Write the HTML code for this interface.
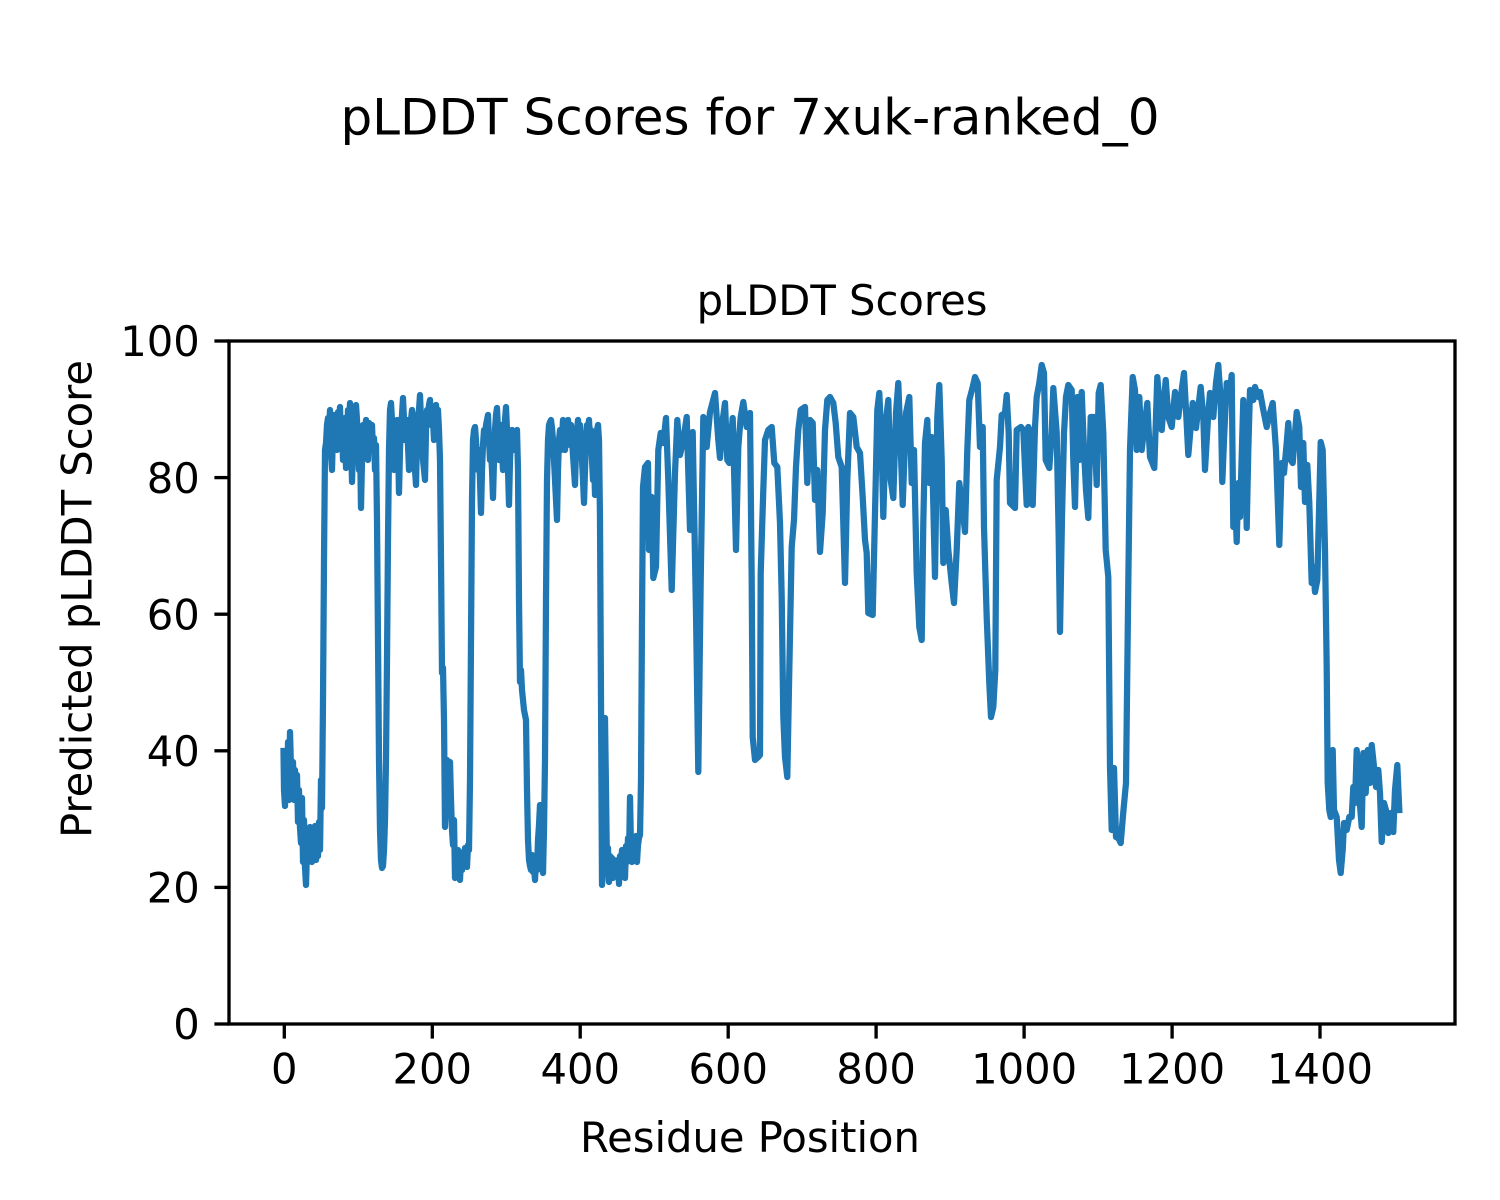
<!DOCTYPE html>
<html>
<head>
<meta charset="utf-8">
<style>
html,body{margin:0;padding:0;background:#fff;}
svg{display:block;}
text{font-family:"DejaVu Sans","Liberation Sans",sans-serif;fill:#000;}
</style>
</head>
<body>
<svg width="1500" height="1200" viewBox="0 0 1500 1200" xmlns="http://www.w3.org/2000/svg">
<rect x="0" y="0" width="1500" height="1200" fill="#fff"/>
<text x="750" y="134.5" font-size="50" text-anchor="middle">pLDDT Scores for 7xuk-ranked_0</text>
<text x="842" y="315" font-size="41.67" text-anchor="middle">pLDDT Scores</text>
<defs><clipPath id="ax"><rect x="229" y="341" width="1226" height="683"/></clipPath></defs>
<polyline clip-path="url(#ax)" fill="none" stroke="#1f77b4" stroke-width="6.25" stroke-linejoin="round" stroke-linecap="square" points="
283.5,751 284,790 285,806 286,760 287,797 288,742 289,800 290,732 291,768 292,795 293,762 294,800 295,770 296,788 297,775 298,822 299,790 300,828 301,843 302,798 303,862 304,820 305,868 306,885 307,850 308,835 309,860 310,827 311,848 312,862 313,828 314,858 315,826 316,860 317,835 318,856 319,822 320,850 321,780 322,808 323,700 324,560 325,450
326,443 327,425 328,418 329,432 330,410 331,455 332,470 333,430 334,415 335,440 336,420 337,450 338,412 339,430 340,407 341,445 342,420 343,460 344,430 345,418 346,468 347,440 348,410 349,430 350,403 351,440 352,482 353,445 354,415 355,430 356,405 357,420 358,450 359,470 360,440 361,508 362,460 363,425 364,440 365,430 366,420 367,445 368,460 369,423 370,430 371,440 372,425 373,450 374,438 375,470 376,445 377,520 378,640 379,760 380,830 381,860 382,868 383,866 384,850 385,820 386,760 387,660 388,540 389,450 390,410 391,403
392,420 393,445 394,470 395,430 396,450 397,420 398,440 399,493 400,450 401,425 402,415 403,398 404,420 405,440 406,430 407,420 408,445 409,470 410,440 411,420 412,410 413,430 414,450 415,470 416,485 417,440 418,415 419,410 420,395 421,420 422,440 423,460 424,470 425,480 426,430 427,410 428,420 429,405 430,400 431,425 432,410 433,420 434,440 435,415 436,405 437,420 438,410 439,430 440,460
441,560 442,673 443,668 444,720 445,827 446,800 447,760 448,790 449,810 450,762 451,800 452,830 453,845 454,820 455,878 456,860 457,872 458,850 459,868 460,880 461,858 462,870 463,852 464,866 465,848 466,860 467,867 468,845 469,850 470,780 471,640 472,500 473,440
474,430 475,427 476,440 477,460 478,470 479,450 480,480 481,513 482,470 483,445 484,430 485,440 486,425 487,420 488,415 489,440 490,460 491,450 492,470 493,498 494,460 495,430 496,415 497,408 498,430 499,460 500,440 501,425 502,450 503,470 504,440 505,420 506,407 507,430 508,470 509,505 510,460 511,440 512,430 513,450 514,440 515,445 516,435 517,430 518,470 519,600 520,682 521,670 522,690 523,700 524,710 525,715 526,720 527,790 528,840 529,860 530,866 531,870 532,855 533,872 534,866 535,880 536,862 537,870 538,840 539,825 540,805 541,845 542,860 543,873 544,830 545,760 546,600 547,480 548,440 549,425 550,422 551,420
552,428 553,440 554,460 555,480 556,500 557,520 558,470 559,440 560,430 561,450 562,440 563,420 564,432 565,450 566,425 567,440 568,420 569,430 570,445 571,425 572,440 573,455 574,470 575,485 576,450 577,430 578,420 579,440 580,425 581,445 582,460 583,480 584,503 585,470 586,440 587,425 588,430 589,420 590,440 591,430 592,460 593,480 594,455 595,495 596,470 597,430 598,425 599,440 600,520 601,700 602,885 603,870 604,760 605,718 606,790 607,870 608,848 609,882 610,856 611,872 612,858 613,878 614,860 615,876 616,862 617,874 618,860 619,884 620,856 621,866 622,850 623,870 624,855 625,878 626,846 627,862 628,838 629,858 630,797 631,848 632,862 633,842 634,860 635,856 636,836 637,862 638,845 639,838 640,835 641,780 642,620 643,487
645,467 648,463 649,550 651.7,497 653.3,578 656,567 658.3,450 660.7,433 663.3,443 666,418 668.3,480 671.7,590 675,473 677.3,420 680,455 683.3,440 686.7,417 690,530 692.7,432 696,613 698.3,772 700.7,580 703.3,417 706.7,447 710,412 715,393 718.3,440 720,458 722.7,420 725,403 727.3,460 729.3,463 732.7,418 734.3,480 736,550 738.3,447 740.7,417 743.3,402 746.7,427 750,413 751.7,580 752.7,737 755,760 758.3,757 760,755 760.7,573 763.3,490 765,440 768.3,430 771.7,427 774.3,463 777.3,467 780,523 781.7,597 783.3,717 785,757 787.3,777 789.3,670 791.7,547 794,520 796,467 798.3,430 800.7,410 805,407 807.3,483 810,420 812.7,423 815,500 817.3,470 820,552 822.7,513 825,430 827.3,400 830,397 833.3,403 835.7,423 838.3,457 841.7,467 845,583 847.3,480 850,413 853.3,417 856.7,447 860,453 862.7,497 865,540 866.7,553 868.3,613 872.7,615 875,513 877.3,410 879.3,393 881.7,447 883.3,517 886,420 888.3,400 890.7,480 893.3,498 896,413 898.3,383 900.7,447 902.7,505 906,413 909.3,397 911.7,483 914,450 916.7,573 919.3,627 921.7,640 923.3,523 925,443 927.3,420 929.3,483 931.7,437 935,577 937.3,417 939.3,385 941.7,460 943.3,563 945.7,510 948.3,550 951.7,583 954,603 956.7,550 959.3,483 962.7,510 965,532 967.3,450 969.3,400 972.7,387 975,377 977.7,383 980,447 982.7,427 984,527 986.7,617 989.3,683 991,717 993.3,707 995.3,670 996.7,480 1000,447 1001.7,415 1005,413 1006.7,395 1008.7,433 1010,503 1015,508 1016.7,430 1021,427 1023.3,430 1026.7,505 1028.3,427 1030.7,433 1032.7,505 1035,427 1036.7,397 1039.3,383 1041.7,365 1044,373 1045.7,460 1049.3,468 1051.7,433 1053.3,388 1056.7,433 1058.7,537 1060,632 1062,517 1064,433 1066,397 1068.3,385 1071.7,390 1073.3,460 1075,507 1077.3,397 1079.3,460 1081.7,392 1084,450 1086,490 1088.3,518 1090.7,417 1094,417 1096.7,485 1098.7,393 1100.7,385 1103.3,433 1105.7,550 1108.3,577 1110,767 1111.7,830 1114,768 1116,837 1118.3,838 1120.7,843 1123.3,812 1126,783 1128.3,583 1130,450 1132.7,377 1135,390 1136.7,450 1139.3,397 1141.7,450 1144,430 1147.3,403 1150,457 1154.3,468 1157.3,377 1160,410 1161.7,430 1165.7,380 1168.3,417 1171.7,427 1175,392 1178.3,417 1181.7,390 1184,373 1186,410 1188.3,455 1192.7,403 1196,428 1200.7,387 1203.3,417 1205,470 1208.3,413 1210,393 1213.3,417 1216,383 1218.3,365 1220.7,400 1222.3,482 1224.3,433 1226.7,383 1229.3,397 1231.7,375 1233.3,527 1235,497 1236.7,542 1238.3,483 1240,517 1243.3,400 1245,450 1246.7,528 1248.3,450 1250,390 1253.3,400 1255,387 1258.3,397 1260,392 1263.3,410 1266.7,427 1270,413 1272.7,403 1276,450 1279.3,545 1281.7,463 1284,473 1286.7,443 1288.3,423 1290.7,460 1292.7,463 1295,433 1296.7,412 1299.3,427 1301,487 1303.3,443 1305,502 1307.3,465 1309.3,503 1311.7,583 1313.3,567 1315,592 1317.3,580 1319.3,500 1320.7,442 1322.7,450 1325,550 1326.7,667 1327.7,783 1329.3,810 1330.7,817 1332.7,750 1334,810 1336.7,817 1339,860 1340.7,873 1342.7,850 1344,823 1346.7,830 1349.3,817 1351.7,817 1353.3,787 1355,803 1356.7,750 1359,793 1361.7,827 1363.3,753 1365.7,793 1367.7,750 1370,783 1371.7,745 1373.3,760 1376,787 1378.3,770 1380,793 1381.7,842 1384,803 1386.7,813 1388.3,833 1391,813 1393.3,832 1395,790 1397.3,765 1399.3,810"/>
<rect x="229" y="341" width="1226" height="683" fill="none" stroke="#000" stroke-width="3.33" stroke-linecap="square"/>
<g stroke="#000" stroke-width="3.33">
<line x1="214.4" y1="1024" x2="229" y2="1024"/>
<line x1="214.4" y1="887.4" x2="229" y2="887.4"/>
<line x1="214.4" y1="750.8" x2="229" y2="750.8"/>
<line x1="214.4" y1="614.2" x2="229" y2="614.2"/>
<line x1="214.4" y1="477.6" x2="229" y2="477.6"/>
<line x1="214.4" y1="341" x2="229" y2="341"/>
<line x1="284.3" y1="1024" x2="284.3" y2="1038.6"/>
<line x1="432.3" y1="1024" x2="432.3" y2="1038.6"/>
<line x1="580.2" y1="1024" x2="580.2" y2="1038.6"/>
<line x1="728.2" y1="1024" x2="728.2" y2="1038.6"/>
<line x1="876.1" y1="1024" x2="876.1" y2="1038.6"/>
<line x1="1024.1" y1="1024" x2="1024.1" y2="1038.6"/>
<line x1="1172.1" y1="1024" x2="1172.1" y2="1038.6"/>
<line x1="1320" y1="1024" x2="1320" y2="1038.6"/>
</g>
<g font-size="41.67" text-anchor="end">
<text x="199.8" y="1039.2">0</text>
<text x="199.8" y="902.6">20</text>
<text x="199.8" y="766">40</text>
<text x="199.8" y="629.4">60</text>
<text x="199.8" y="492.8">80</text>
<text x="199.8" y="356.2">100</text>
</g>
<g font-size="41.67" text-anchor="middle">
<text x="284.3" y="1083.5">0</text>
<text x="432.3" y="1083.5">200</text>
<text x="580.2" y="1083.5">400</text>
<text x="728.2" y="1083.5">600</text>
<text x="876.1" y="1083.5">800</text>
<text x="1024.1" y="1083.5">1000</text>
<text x="1172.1" y="1083.5">1200</text>
<text x="1320" y="1083.5">1400</text>
</g>
<text x="750" y="1152" font-size="41.67" text-anchor="middle">Residue Position</text>
<text transform="translate(91.5,599) rotate(-90)" font-size="41.67" text-anchor="middle">Predicted pLDDT Score</text>
</svg>
</body>
</html>
